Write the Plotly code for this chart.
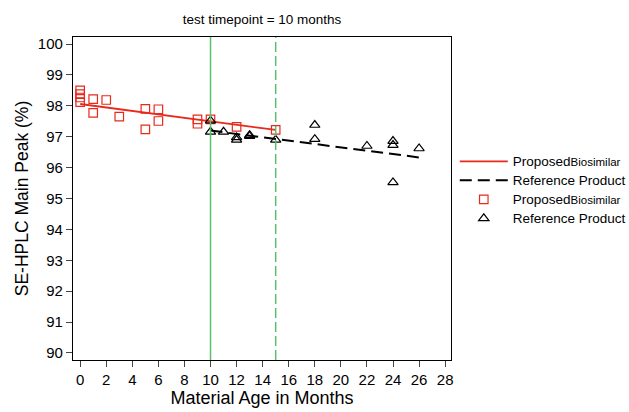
import plotly.graph_objects as go

# Proposed Biosimilar data
pb_age = [0, 0, 0, 0, 1, 1, 2, 3, 5, 5, 6, 6, 9, 9, 10, 12, 15]
pb_val = [98.5, 98.38, 98.27, 98.12, 98.22, 97.77, 98.19, 97.65, 97.9, 97.24, 97.89, 97.51, 97.56, 97.42, 97.56, 97.32, 97.22]
# Reference Product data
rp_age = [10, 10, 11, 12, 12, 13, 13, 15, 18, 18, 22, 24, 24, 24, 26]
rp_val = [97.52, 97.16, 97.16, 96.98, 96.9, 97.02, 97.05, 96.9, 97.38, 96.92, 96.7, 96.86, 96.73, 95.52, 96.62]
# Fitted lines
pb_fit_x = [0, 15]
pb_fit_y = [98.06, 97.22]
rp_fit_x = [10, 26]
rp_fit_y = [97.2, 96.33]
# reference timepoints
vline_solid = 10
vline_dash = 15

x_ticks = list(range(0, 29, 2))
y_ticks = list(range(90, 101))

pb_label = "<span style='font-size:13.5px'>Proposed</span><span style='font-size:11.5px'>Biosimilar</span>"
rp_label = "<span style='font-size:13.5px'>Reference Product</span>"

fig = go.Figure()
fig.add_trace(go.Scatter(x=pb_fit_x, y=pb_fit_y, mode="lines", name=pb_label,
                         line=dict(color="#e8291c", width=1.8)))
fig.add_trace(go.Scatter(x=rp_fit_x, y=rp_fit_y, mode="lines", name=rp_label,
                         line=dict(color="black", width=2, dash="12px,6px")))
fig.add_trace(go.Scatter(x=pb_age, y=pb_val, mode="markers", name=pb_label,
                         marker=dict(symbol="square-open", size=8.5, color="#e8291c", line=dict(width=1.2))))
fig.add_trace(go.Scatter(x=rp_age, y=rp_val, mode="markers", name=rp_label,
                         marker=dict(symbol="triangle-up-open", size=9, color="black", line=dict(width=1.2))))

fig.add_shape(type="line", xref="x", yref="paper", x0=vline_solid, x1=vline_solid, y0=0, y1=1,
              line=dict(color="#5cbf6a", width=1.5))
fig.add_shape(type="line", xref="x", yref="paper", x0=vline_dash, x1=vline_dash, y0=0, y1=1,
              line=dict(color="#5cbf6a", width=1.5, dash="10px,4px"))

font_fam = "Liberation Sans, Arial, sans-serif"
axis_font = dict(family=font_fam, size=15, color="black")
fig.update_layout(
    width=629, height=412,
    margin=dict(l=73, r=178, t=37, b=52, autoexpand=False),
    paper_bgcolor="white", plot_bgcolor="white",
    font=dict(family=font_fam, color="black"),
    title=dict(text="test timepoint = 10 months", x=262 / 629,
               xanchor="center", y=1 - 19 / 412, yanchor="middle",
               font=dict(size=13.5, color="black")),
    showlegend=True,
    legend=dict(x=1.01, xanchor="left", y=0.66, yanchor="top",
                font=dict(size=12.3, color="black"), bgcolor="rgba(0,0,0,0)",
                tracegroupgap=0, itemwidth=48),
    xaxis=dict(range=[-0.55, 28.45], tickvals=x_ticks, ticks="outside", ticklen=6,
               showline=True, linecolor="black", linewidth=1.3, mirror=True,
               showgrid=False, zeroline=False, tickfont=axis_font,
               title=dict(text="Material Age in Months", font=dict(size=18, color="black"), standoff=1)),
    yaxis=dict(range=[89.77, 100.23], tickvals=y_ticks, ticks="outside", ticklen=6,
               showline=True, linecolor="black", linewidth=1.3, mirror=True,
               showgrid=False, zeroline=False, tickfont=axis_font,
               title=dict(text="SE-HPLC Main Peak (%)", font=dict(size=17.5, color="black"), standoff=4)),
)

fig.write_html("out.html", config={"displayModeBar": False},
               post_script="document.body.style.margin='0';document.body.style.overflow='hidden';")
